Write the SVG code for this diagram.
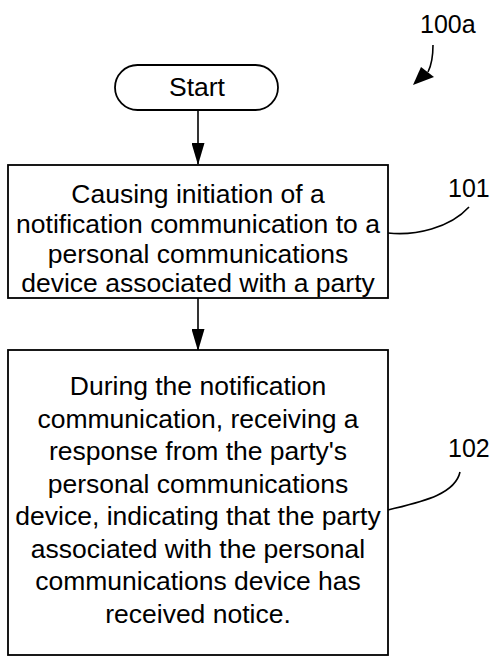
<svg xmlns="http://www.w3.org/2000/svg" width="493" height="657" viewBox="0 0 493 657">
<style>
.box{fill:#fff;stroke:#000;stroke-width:1.8}
.ln{fill:none;stroke:#000;stroke-width:1.6}
.t{font-family:"Liberation Sans",Arial,sans-serif;font-size:26.5px;fill:#000;text-anchor:middle}
.lbl{font-family:"Liberation Sans",Arial,sans-serif;font-size:25px;fill:#000}
</style>
<defs>
<marker id="ah" markerWidth="22" markerHeight="13" refX="21" refY="6.5" orient="auto" markerUnits="userSpaceOnUse" viewBox="0 0 22 13">
<path d="M0,0 L22,6.5 L0,13 Z" fill="#000"/>
</marker>
</defs>
<rect width="493" height="657" fill="#fff"/>
<g id="connectors">
<line class="ln" x1="198" y1="110" x2="198" y2="164" marker-end="url(#ah)"/>
<line class="ln" x1="198" y1="298" x2="198" y2="350" marker-end="url(#ah)"/>
</g>
<g id="start">
<rect class="box" x="115" y="65" width="163" height="45" rx="22.5"/>
<text class="t" x="197" y="96">Start</text>
</g>
<g id="node101">
<rect class="box" x="8" y="165" width="380" height="133"/>
<text class="t" x="198" y="203">Causing initiation of a</text>
<text class="t" x="198" y="233">notification communication to a</text>
<text class="t" x="198" y="263">personal communications</text>
<text class="t" x="198" y="292">device associated with a party</text>
</g>
<g id="node102">
<rect class="box" x="8" y="350" width="380" height="305"/>
<text class="t" x="198" y="395">During the notification</text>
<text class="t" x="198" y="428">communication, receiving a</text>
<text class="t" x="198" y="460">response from the party's</text>
<text class="t" x="198" y="493">personal communications</text>
<text class="t" x="198" y="525">device, indicating that the party</text>
<text class="t" x="198" y="558">associated with the personal</text>
<text class="t" x="198" y="590">communications device has</text>
<text class="t" x="198" y="623">received notice.</text>
</g>
<g id="label100a">
<text class="lbl" x="420" y="33">100a</text>
<path class="ln" d="M433,45 C433,56 432,64 428,72"/>
<path d="M413,85 L421,67 L434,77 Z" fill="#000"/>
</g>
<g id="label101">
<text class="lbl" x="448" y="197">101</text>
<path class="ln" d="M388,233 C415,236 450,228 469,207"/>
</g>
<g id="label102">
<text class="lbl" x="448" y="457">102</text>
<path class="ln" d="M388,510 C420,502 455,495 460,472"/>
</g>
</svg>
